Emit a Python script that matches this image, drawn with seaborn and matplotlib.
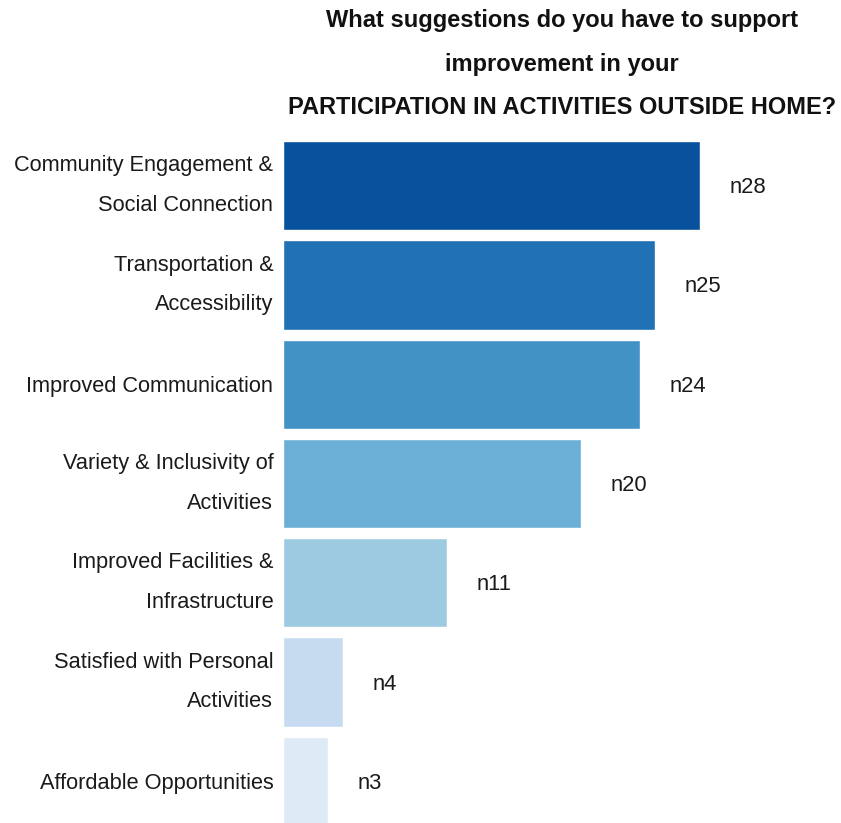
import matplotlib
matplotlib.use("Agg")
import matplotlib.pyplot as plt
import seaborn as sns
import pandas as pd

categories = [
    "Community Engagement &\nSocial Connection",
    "Transportation &\nAccessibility",
    "Improved Communication",
    "Variety & Inclusivity of\nActivities",
    "Improved Facilities &\nInfrastructure",
    "Satisfied with Personal\nActivities",
    "Affordable Opportunities",
]
counts = [28, 25, 24, 20, 11, 4, 3]
value_labels = ["n28", "n25", "n24", "n20", "n11", "n4", "n3"]
colors = ["#08519c", "#2171b5", "#4292c6", "#6baed6", "#9ecae1", "#c6dbef", "#deebf7"]

sns.set_theme(style="white")
plt.rcParams["font.family"] = ["Liberation Sans", "DejaVu Sans"]

df = pd.DataFrame({"category": categories, "count": counts})

W, H = 841, 823
fig = plt.figure(figsize=(W / 100, H / 100), dpi=100)
left_px, top_px = 283, 136
ax = fig.add_axes([left_px / W, 0, (W - left_px) / W, (H - top_px) / H])

sns.barplot(data=df, x="count", y="category", hue="category", palette=colors,
            legend=False, width=0.9, ax=ax, saturation=1)

ax.set_xlim(0, 37.5)
ax.set_ylim(6.42, -0.5)
ax.set_xlabel("")
ax.set_ylabel("")
ax.set_xticks([])
ax.tick_params(axis="y", length=0, pad=7)
for lbl in ax.get_yticklabels():
    lbl.set_fontsize(15.7)
    lbl.set_color("#1a1a1a")
    lbl.set_linespacing(2.17)
    lbl.set_multialignment("right")
    if "\n" in lbl.get_text():
        lbl.set_verticalalignment("center")
for s in ax.spines.values():
    s.set_visible(False)

for i, (c, t) in enumerate(zip(counts, value_labels)):
    ax.text(c + 2.0, i + 0.02, t, va="center", ha="left", fontsize=15.8, color="#1a1a1a")

fig.text((left_px + (W - left_px) / 2) / W, 1 - 64 / H,
         "What suggestions do you have to support\nimprovement in your\nPARTICIPATION IN ACTIVITIES OUTSIDE HOME?",
         ha="center", va="center", fontsize=17, fontweight="bold", linespacing=2.13,
         color="#111111")

fig.savefig("out.png", dpi=100)
